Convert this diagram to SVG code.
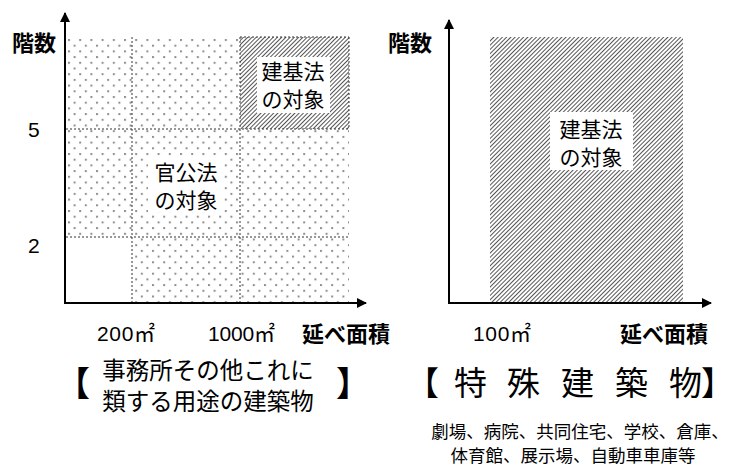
<svg xmlns="http://www.w3.org/2000/svg" width="734" height="473" viewBox="0 0 734 473">
<style>
.ax{stroke:#000;stroke-width:2;fill:none}
.dash{stroke:#333;stroke-width:1;stroke-dasharray:2 2;fill:none}
.lbl{font-family:"Liberation Sans","Noto Sans CJK JP",sans-serif;font-size:21px;fill:#000}
.blbl{font-family:"Noto Sans CJK JP",sans-serif;font-size:22px;font-weight:bold;fill:#000}
.in{font-family:"Noto Sans CJK JP",sans-serif;font-size:21px;fill:#000;text-anchor:middle}
.cap{font-family:"Noto Sans CJK JP",sans-serif;fill:#000}
</style>
<defs>
<pattern id="dots" patternUnits="userSpaceOnUse" x="68" y="39" width="11.2" height="11.4">
<rect x="0" y="0" width="2" height="2" fill="#8f8f8f"/>
<rect x="5.6" y="5.7" width="2" height="2" fill="#8f8f8f"/>
</pattern>
<pattern id="hatch" patternUnits="userSpaceOnUse" width="3" height="10" patternTransform="rotate(45)">
<line x1="0.5" y1="0" x2="0.5" y2="10" stroke="#555" stroke-width="1"/>
</pattern>
<marker id="arr" viewBox="0 0 10 10" refX="9" refY="5" markerWidth="5" markerHeight="5" orient="auto" markerUnits="strokeWidth">
<path d="M0,0 L10,5 L0,10 z" fill="#000"/>
</marker>
</defs>

<g id="left-chart">
<g id="official-region">
<rect x="66" y="37" width="283" height="266" fill="url(#dots)"/>
<rect x="66" y="237" width="66" height="66" fill="#fff"/>
</g>
<g id="left-kenki-region">
<rect x="240" y="37" width="109" height="92" fill="#fff"/>
<rect x="240" y="37" width="109" height="92" fill="url(#hatch)"/>
<rect x="257" y="57" width="73" height="56" fill="#fff"/>
<text class="in" x="293" y="79">建基法</text>
<text class="in" x="293" y="107">の対象</text>
</g>
<g id="left-kokou-label">
<rect x="148" y="158" width="76" height="54" fill="#fff"/>
<text class="in" x="186" y="180">官公法</text>
<text class="in" x="186" y="208">の対象</text>
</g>
</g>

<g id="right-chart">
<g id="right-kenki-region">
<rect x="490" y="37" width="193" height="266" fill="url(#hatch)"/>
<rect x="550" y="112" width="83" height="58" fill="#fff"/>
<text class="in" x="591" y="137">建基法</text>
<text class="in" x="591" y="165">の対象</text>
</g>
</g>

<g id="connectors">
<line class="dash" x1="132" y1="37" x2="132" y2="303"/>
<line class="dash" x1="240" y1="37" x2="240" y2="303"/>
<line class="dash" x1="66" y1="129" x2="349" y2="129"/>
<line class="dash" x1="66" y1="237" x2="349" y2="237"/>
<line class="dash" x1="240" y1="37" x2="349" y2="37"/>
<line class="dash" x1="349" y1="37" x2="349" y2="129"/>
<line class="ax" x1="65" y1="304" x2="65" y2="13" marker-end="url(#arr)"/>
<line class="ax" x1="64" y1="303" x2="366" y2="303" marker-end="url(#arr)"/>
<line class="ax" x1="449" y1="304" x2="449" y2="20" marker-end="url(#arr)"/>
<line class="ax" x1="448" y1="303" x2="711" y2="303" marker-end="url(#arr)"/>
</g>

<g id="axis-labels">
<text class="blbl" x="12" y="51">階数</text>
<text class="lbl" x="28" y="137" font-size="22">5</text>
<text class="lbl" x="28" y="253" font-size="22">2</text>
<text class="lbl" x="97" y="341" textLength="58">200㎡</text>
<text class="lbl" x="208" y="341" textLength="67">1000㎡</text>
<text class="blbl" x="302" y="342">延べ面積</text>
<text class="blbl" x="388" y="51">階数</text>
<text class="lbl" x="473" y="341" textLength="58">100㎡</text>
<text class="blbl" x="620" y="342">延べ面積</text>
</g>

<g id="caption-left">
<text class="cap" x="56" y="396" font-size="34" font-weight="bold">【</text>
<text class="cap" x="208" y="379" font-size="23.5" text-anchor="middle">事務所その他これに</text>
<text class="cap" x="208" y="410" font-size="23.5" text-anchor="middle">類する用途の建築物</text>
<text class="cap" x="336" y="396" font-size="34" font-weight="bold">】</text>
</g>

<g id="caption-right">
<text class="cap" font-size="33" y="395" x="406 454 507 561 615 669 701">【特殊建築物】</text>
<text class="cap" font-size="17.5" x="580" y="438" text-anchor="middle">劇場、病院、共同住宅、学校、倉庫、</text>
<text class="cap" font-size="17.5" x="573" y="462" text-anchor="middle">体育館、展示場、自動車車庫等</text>
</g>
</svg>
